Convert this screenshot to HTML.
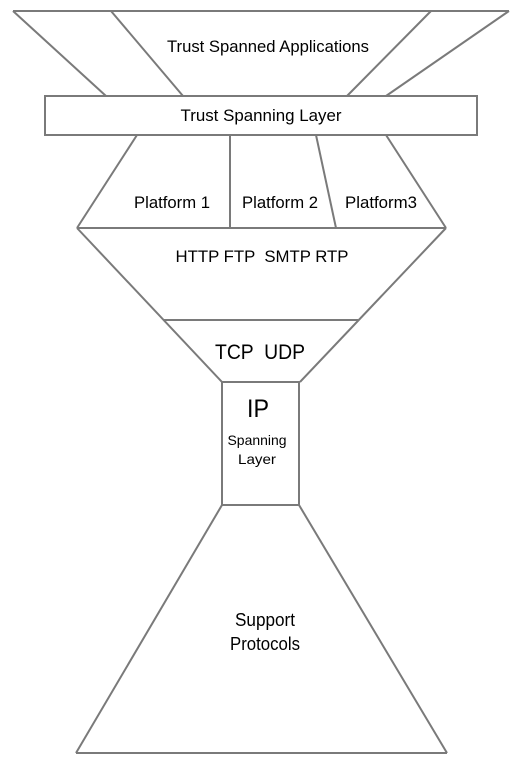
<!DOCTYPE html>
<html><head><meta charset="utf-8"><style>
html,body{margin:0;padding:0;background:#fff;}
svg{display:block;}
text{font-family:"Liberation Sans",Arial,sans-serif;fill:#000;text-anchor:middle;white-space:pre;}
</style></head><body>
<svg width="518" height="763" viewBox="0 0 518 763" xmlns="http://www.w3.org/2000/svg" xml:space="preserve">
<g stroke="#7a7a7a" stroke-width="2" fill="none">
<line x1="13" y1="11" x2="509" y2="11"/>
<line x1="13" y1="11" x2="106" y2="96"/>
<line x1="111" y1="11" x2="183" y2="96"/>
<line x1="431" y1="11" x2="347" y2="96"/>
<line x1="509" y1="11" x2="386" y2="96"/>
<rect x="45" y="96" width="432" height="39"/>
<line x1="137" y1="135" x2="77" y2="228"/>
<line x1="230" y1="135" x2="230" y2="228"/>
<line x1="316" y1="135" x2="336" y2="228"/>
<line x1="386" y1="135" x2="446" y2="228"/>
<line x1="77" y1="228" x2="446" y2="228"/>
<line x1="77" y1="228" x2="222" y2="382"/>
<line x1="446" y1="228" x2="300" y2="382"/>
<line x1="164" y1="320" x2="358" y2="320"/>
<rect x="222" y="382" width="77" height="123"/>
<line x1="222" y1="505" x2="76" y2="753"/>
<line x1="299" y1="505" x2="447" y2="753"/>
<line x1="76" y1="753" x2="447" y2="753"/>
</g>
<text x="268" y="52" font-size="17" textLength="202" lengthAdjust="spacingAndGlyphs">Trust Spanned Applications</text>
<text x="261" y="121" font-size="17" textLength="161" lengthAdjust="spacingAndGlyphs">Trust Spanning Layer</text>
<text x="172" y="208" font-size="17" textLength="76" lengthAdjust="spacingAndGlyphs">Platform 1</text>
<text x="280" y="208" font-size="17" textLength="76" lengthAdjust="spacingAndGlyphs">Platform 2</text>
<text x="381" y="208" font-size="17" textLength="72" lengthAdjust="spacingAndGlyphs">Platform3</text>
<text x="262" y="262" font-size="17" textLength="173" lengthAdjust="spacingAndGlyphs">HTTP FTP  SMTP RTP</text>
<text x="260" y="359" font-size="21" textLength="90" lengthAdjust="spacingAndGlyphs">TCP  UDP</text>
<text x="258" y="417" font-size="25" textLength="22" lengthAdjust="spacingAndGlyphs">IP</text>
<text x="257" y="445" font-size="14" textLength="59" lengthAdjust="spacingAndGlyphs">Spanning</text>
<text x="257" y="464" font-size="14" textLength="38" lengthAdjust="spacingAndGlyphs">Layer</text>
<text x="265" y="626" font-size="18" textLength="60" lengthAdjust="spacingAndGlyphs">Support</text>
<text x="265" y="650" font-size="18" textLength="70" lengthAdjust="spacingAndGlyphs">Protocols</text>
</svg>
</body></html>
